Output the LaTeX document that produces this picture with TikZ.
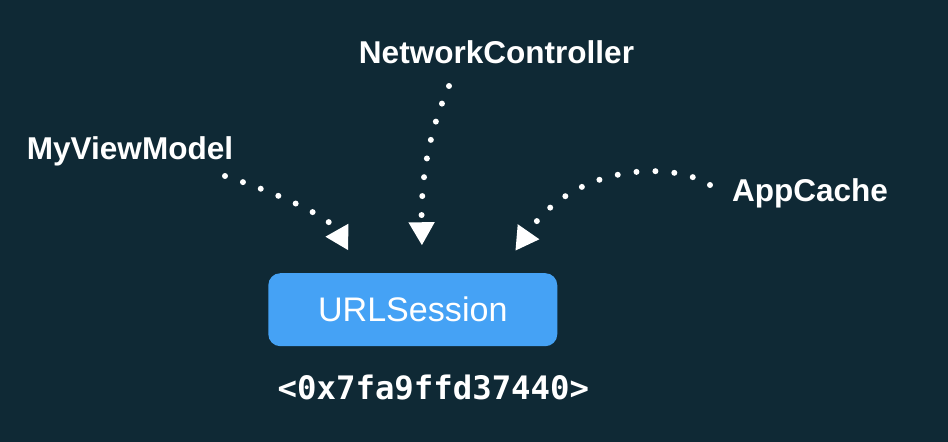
\documentclass[tikz,border=0pt]{standalone}
\usepackage{fontspec}
\setmainfont{Liberation Sans}
\newfontfamily\codefont{DejaVu Sans Mono}
\usetikzlibrary{arrows.meta}
\definecolor{bgnavy}{RGB}{15,41,53}
\definecolor{sessionblue}{RGB}{69,162,245}
\tikzset{
	ownertext/.style={text=white, inner sep=0pt, anchor=base, font=\bfseries\fontsize{17.95}{20}\selectfont},
	sessionbox/.style={fill=sessionblue, rounded corners=6.8pt, inner sep=0pt, minimum width=5.78cm, minimum height=1.46cm, text=white, font=\fontsize{19.4}{22}\selectfont},
	refline/.style={white, line width=3.4pt, line cap=round, dash pattern=on 0pt off 10.8pt, -{Triangle[length=13pt, width=15pt, sep=4.5pt, line width=0pt]}}
}

\begin{document}
\begin{tikzpicture}[x=0.02cm, y=-0.02cm]
	%%%%% START %%%%%
	
	\fill[bgnavy] (0, 0) rectangle (948, 442);
	\useasboundingbox (0, 0) rectangle (948, 442);
	
	\node[ownertext] (viewmodel) at (130, 160) {MyViewModel};
	\node[ownertext] (controller) at (496.5, 64) {NetworkController};
	\node[ownertext] (cache) at (810, 202) {AppCache};
	
	\node[sessionbox] (session) at (412.8, 309.7) {URLSession};
	\node[text=white, inner sep=0pt, anchor=base, font=\codefont\bfseries\fontsize{18.4}{21}\selectfont] (address) at (433.4, 399.3) {<0x7fa9ffd37440>};
	
	\coordinate (viewmodel-out) at (225, 176);
	\coordinate (viewmodel-tip) at (352, 257);
	\coordinate (controller-out) at (449, 86);
	\coordinate (controller-tip) at (422, 253);
	\coordinate (cache-out) at (710, 185);
	\coordinate (cache-tip) at (511, 257);
	
	\draw[refline] (viewmodel-out) .. controls (283, 195) and (330, 218) .. (viewmodel-tip);
	\draw[refline] (controller-out) .. controls (430, 130) and (421, 175) .. (controller-tip);
	\draw[refline] (cache-out) .. controls (670, 160) and (575, 165) .. (cache-tip);
	
	%%%%% END %%%%%
\end{tikzpicture}
\end{document}
